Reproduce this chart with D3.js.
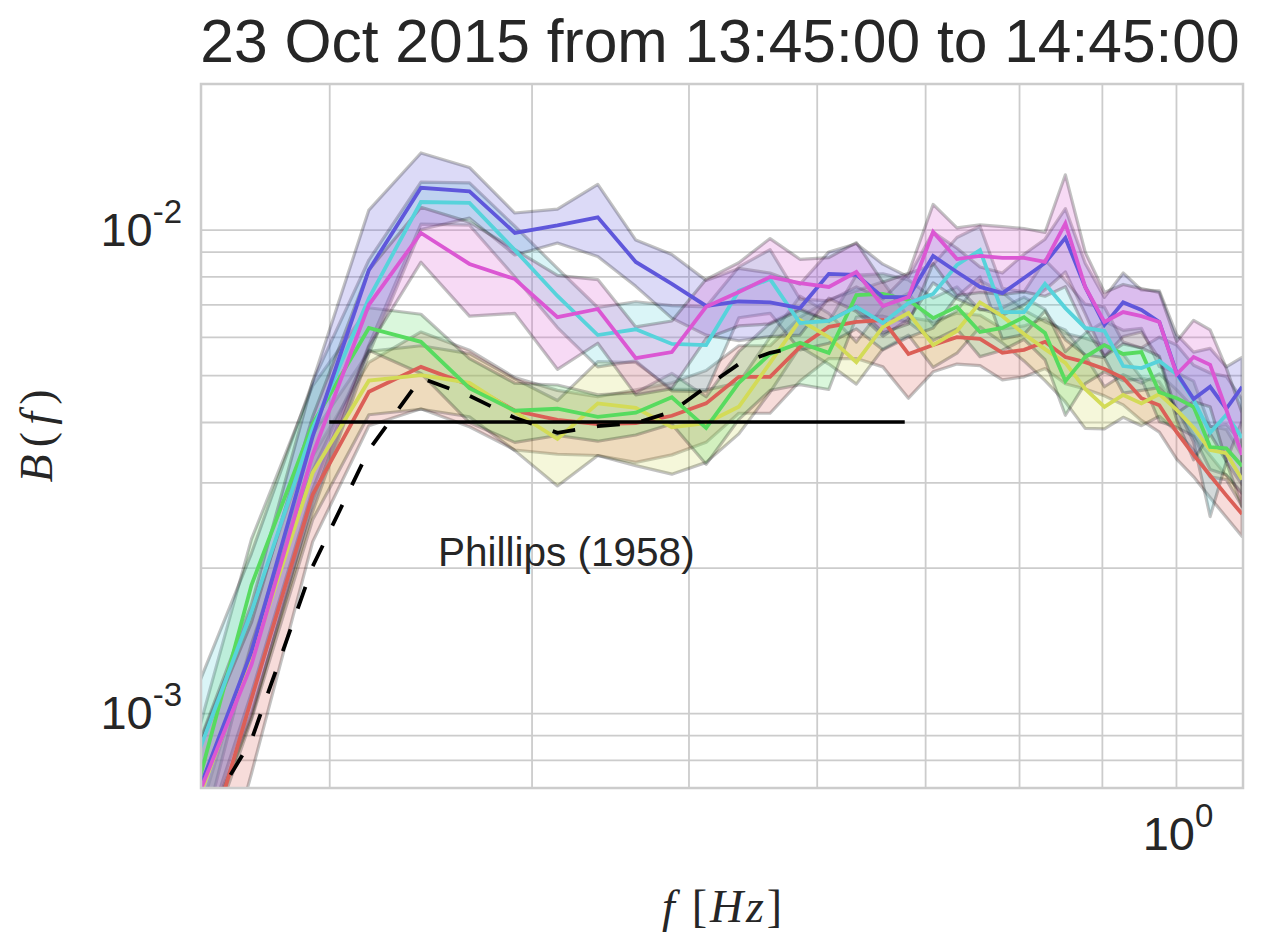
<!DOCTYPE html>
<html>
<head>
<meta charset="utf-8">
<script src="https://cdn.jsdelivr.net/npm/d3@7"></script>
<style>
  body { margin: 0; background: #fff; }
  text { font-family: "Liberation Sans", Arial, sans-serif; fill: #262626; }
  .math { font-family: "Liberation Serif", "DejaVu Serif", serif; font-style: italic; }
</style>
</head>
<body>
<svg id="chart" width="1264" height="952"></svg>
<script>
// values are in units of 1e-3
const UNIT = 1e-3;

const freqs = [0.2441, 0.2686, 0.2930, 0.3174, 0.3418, 0.3662, 0.3906, 0.4150, 0.4395,
  0.4639, 0.4883, 0.5127, 0.5371, 0.5615, 0.5859, 0.6104, 0.6348, 0.6592, 0.6836,
  0.7080, 0.7324, 0.7568, 0.7813, 0.8057, 0.8301, 0.8545, 0.8789, 0.9033, 0.9277,
  0.9521, 0.9766, 1.0010, 1.0254, 1.0498, 1.0742, 1.0986];

const redMean = [0.361, 1.07, 2.83, 4.62, 5.20, 4.77, 4.22, 4.04, 3.96, 3.98, 4.12, 4.37,
  4.96, 4.96, 5.72, 6.29, 6.44, 6.50, 5.53, 5.77, 5.99, 5.94, 5.56, 5.64, 5.86, 5.45,
  5.32, 5.15, 4.93, 4.48, 4.33, 3.81, 3.42, 3.10, 2.82, 2.58];
const redStd = [0.126, 0.32, 0.57, 0.69, 0.94, 0.86, 0.72, 0.61, 0.55, 0.68, 0.70, 0.74,
  0.79, 0.79, 0.86, 0.88, 1.03, 1.30, 1.05, 0.69, 0.72, 0.71, 0.67, 0.68, 0.70, 0.65,
  0.64, 0.62, 0.59, 0.45, 0.52, 0.46, 0.34, 0.31, 0.28, 0.26];

const yellowMean = [0.557, 1.29, 3.14, 4.87, 5.00, 4.82, 4.20, 3.69, 4.37, 4.28, 3.90, 3.98,
  4.30, 5.30, 6.50, 5.99, 5.32, 6.29, 6.72, 5.77, 6.17, 7.07, 6.62, 6.08, 5.66, 5.30,
  4.68, 4.30, 4.55, 4.37, 4.57, 4.24, 3.89, 3.50, 3.45, 3.04];
const yellowStd = [0.167, 0.32, 0.63, 0.73, 0.75, 0.72, 0.71, 0.74, 0.96, 1.03, 0.78, 0.68,
  0.52, 0.69, 0.78, 0.72, 0.53, 0.63, 0.67, 0.58, 0.62, 0.78, 0.79, 0.73, 0.79, 0.90,
  0.80, 0.43, 0.46, 0.44, 0.46, 0.42, 0.39, 0.42, 0.41, 0.36];

const greenMean = [0.557, 1.84, 3.96, 6.26, 5.86, 4.70, 4.22, 4.26, 4.10, 4.18, 4.50, 3.89,
  4.82, 5.53, 5.83, 5.56, 7.32, 7.36, 7.15, 6.56, 6.92, 6.14, 6.26, 6.59, 6.11, 4.86,
  5.45, 5.77, 5.53, 5.58, 4.61, 4.48, 4.30, 3.55, 3.53, 3.24];
const greenStd = [0.16, 0.45, 0.79, 0.63, 0.82, 0.71, 0.59, 0.51, 0.45, 0.42, 0.54, 0.62,
  0.77, 0.88, 1.05, 0.89, 0.73, 0.74, 0.72, 0.66, 0.69, 0.68, 0.63, 0.66, 0.73, 0.73,
  0.65, 0.69, 0.66, 0.67, 0.60, 0.58, 0.56, 0.36, 0.42, 0.39];

const cyanMean = [0.692, 1.62, 3.87, 7.21, 11.4, 11.35, 9.07, 7.29, 6.05, 6.22, 5.80, 5.77,
  7.47, 7.90, 6.41, 6.47, 6.92, 6.41, 7.05, 7.36, 8.45, 9.07, 6.75, 6.75, 7.72, 6.88,
  6.26, 6.17, 5.22, 5.17, 5.35, 5.02, 4.44, 3.80, 4.14, 3.71];
const cyanStd = [0.277, 0.52, 0.97, 1.44, 1.14, 1.14, 1.09, 1.02, 0.85, 0.87, 1.16, 1.15,
  0.90, 1.19, 0.77, 0.65, 0.69, 0.77, 1.06, 1.10, 1.18, 1.09, 0.81, 0.68, 0.93, 0.96,
  0.75, 0.74, 0.63, 0.52, 0.64, 0.75, 0.80, 1.25, 0.83, 0.74];

const blueMean = [0.576, 1.34, 3.73, 8.25, 12.2, 12.0, 9.84, 10.2, 10.6, 8.57, 7.72, 6.95,
  7.10, 7.07, 6.88, 8.10, 8.06, 7.25, 7.25, 8.82, 8.17, 7.61, 7.39, 7.94, 8.53, 9.61,
  7.61, 6.35, 7.07, 6.82, 6.44, 5.05, 4.46, 4.73, 4.26, 4.73];
const blueStd = [0.144, 0.34, 1.12, 2.72, 2.20, 1.44, 0.98, 0.82, 1.80, 0.94, 1.16, 0.90,
  1.21, 1.06, 0.83, 0.89, 1.29, 1.23, 0.73, 1.06, 0.98, 0.76, 0.74, 0.95, 1.02, 1.44,
  0.91, 0.89, 1.06, 0.68, 1.03, 1.01, 1.12, 0.95, 0.94, 0.71];

const magentaMean = [0.573, 1.26, 3.42, 6.99, 9.84, 8.49, 7.90, 6.59, 6.85, 5.42, 5.58, 6.92,
  7.43, 7.98, 7.75, 7.61, 8.17, 6.95, 7.25, 9.89, 8.69, 8.82, 8.74, 8.74, 8.57, 10.3,
  7.61, 6.44, 6.75, 6.62, 6.44, 5.02, 5.45, 5.25, 4.24, 3.42];
const magentaStd = [0.143, 0.28, 0.68, 1.26, 1.28, 1.87, 1.19, 1.45, 1.03, 0.87, 0.89, 0.97,
  1.11, 1.60, 0.93, 1.14, 1.23, 0.83, 0.87, 1.38, 1.39, 1.41, 1.40, 1.31, 1.29, 2.68,
  1.37, 0.97, 0.95, 0.93, 0.97, 0.85, 1.04, 0.95, 0.93, 0.75];

// dashed reference curve, on the first 15 frequencies
const dashedMean = [0.516, 0.880, 2.01, 3.50, 4.93, 4.53, 4.08, 3.80, 3.92, 3.98, 4.20,
  4.73, 5.27, 5.56, 5.72];

const phillipsF = [0.3, 0.68];
const phillipsB = 4.0;

const xGrid = [0.3, 0.4, 0.5, 0.6, 0.7, 0.8, 0.9, 1.0];
const yGrid = [0.8, 0.9, 1, 2, 3, 4, 5, 6, 7, 8, 9, 10];
const xLabels = [{ v: 1.0, exp: '0' }];
const yLabels = [{ v: 1, exp: '-3' }, { v: 10, exp: '-2' }];

const title = '23 Oct 2015 from 13:45:00 to 14:45:00';

const series = [
  { color: '#db5f57', mean: redMean, std: redStd },
  { color: '#d3db57', mean: yellowMean, std: yellowStd },
  { color: '#57db5f', mean: greenMean, std: greenStd },
  { color: '#57d3db', mean: cyanMean, std: cyanStd },
  { color: '#5f57db', mean: blueMean, std: blueStd },
  { color: '#db57d3', mean: magentaMean, std: magentaStd }
];

const plot = { left: 201, right: 1243, top: 84, bottom: 788 };

const x = d3.scaleLog().domain([0.25, 1.1]).range([plot.left, plot.right]);
const y = d3.scaleLog().domain([0.7 * UNIT, 20 * UNIT]).range([plot.bottom, plot.top]);

const svg = d3.select('#chart');

svg.append('defs').append('clipPath').attr('id', 'clip')
  .append('rect')
  .attr('x', plot.left).attr('y', plot.top)
  .attr('width', plot.right - plot.left).attr('height', plot.bottom - plot.top);

// grid
svg.append('g')
  .attr('transform', `translate(0,${plot.bottom})`)
  .call(d3.axisBottom(x).tickValues(xGrid).tickSize(-(plot.bottom - plot.top)).tickFormat(''))
  .call(g => g.select('.domain').remove())
  .call(g => g.selectAll('line').attr('stroke', '#cccccc').attr('stroke-width', 1.8));

svg.append('g')
  .attr('transform', `translate(${plot.left},0)`)
  .call(d3.axisLeft(y).tickValues(yGrid.map(v => v * UNIT)).tickSize(-(plot.right - plot.left)).tickFormat(''))
  .call(g => g.select('.domain').remove())
  .call(g => g.selectAll('line').attr('stroke', '#cccccc').attr('stroke-width', 1.8));

const area = d3.area()
  .x(d => x(d.f))
  .y0(d => y(d.lo))
  .y1(d => y(d.hi));

const line = d3.line()
  .x(d => x(d.f))
  .y(d => y(d.v));

const body = svg.append('g').attr('clip-path', 'url(#clip)');

// bands first
series.forEach(s => {
  const rows = freqs.map((f, i) => ({
    f,
    lo: (s.mean[i] - s.std[i]) * UNIT,
    hi: (s.mean[i] + s.std[i]) * UNIT
  }));
  body.append('path')
    .datum(rows)
    .attr('d', area)
    .attr('fill', s.color)
    .attr('fill-opacity', 0.22)
    .attr('stroke', '#000')
    .attr('stroke-opacity', 0.24)
    .attr('stroke-width', 3.2)
    .attr('stroke-linejoin', 'round');
});

series.forEach(s => {
  body.append('path')
    .datum(freqs.map((f, i) => ({ f, v: s.mean[i] * UNIT })))
    .attr('d', line)
    .attr('fill', 'none')
    .attr('stroke', s.color)
    .attr('stroke-width', 3.8);
});

// Phillips saturation level
body.append('path')
  .datum(phillipsF.map(f => ({ f, v: phillipsB * UNIT })))
  .attr('d', line)
  .attr('fill', 'none')
  .attr('stroke', '#000')
  .attr('stroke-width', 3.6);

body.append('path')
  .datum(dashedMean.map((v, i) => ({ f: freqs[i], v: v * UNIT })))
  .attr('d', line)
  .attr('fill', 'none')
  .attr('stroke', '#000')
  .attr('stroke-width', 3.8)
  .attr('stroke-dasharray', '23,22');

svg.append('text')
  .attr('x', 438)
  .attr('y', 566)
  .attr('font-size', 40.5)
  .text('Phillips (1958)');

// frame
svg.append('rect')
  .attr('x', plot.left).attr('y', plot.top)
  .attr('width', plot.right - plot.left).attr('height', plot.bottom - plot.top)
  .attr('fill', 'none')
  .attr('stroke', '#cccccc')
  .attr('stroke-width', 2.5);

// tick labels as 10^n
function powerLabel(sel, exp) {
  sel.append('tspan').text('10');
  sel.append('tspan').attr('dy', -23).attr('font-size', 33).text(exp);
}

yLabels.forEach(t => {
  svg.append('text')
    .attr('x', 182)
    .attr('y', y(t.v * UNIT) + 16)
    .attr('text-anchor', 'end')
    .attr('font-size', 47)
    .call(powerLabel, t.exp);
});

xLabels.forEach(t => {
  svg.append('text')
    .attr('x', x(t.v) + 2)
    .attr('y', 850)
    .attr('text-anchor', 'middle')
    .attr('font-size', 47)
    .call(powerLabel, t.exp);
});

svg.append('text')
  .attr('x', (plot.left + plot.right) / 2 - 2)
  .attr('y', 62)
  .attr('text-anchor', 'middle')
  .attr('font-size', 60.5)
  .text(title);

// axis labels
const xl = svg.append('text')
  .attr('class', 'math')
  .attr('x', 722)
  .attr('y', 922)
  .attr('text-anchor', 'middle')
  .attr('font-size', 46)
  .attr('textLength', 120)
  .attr('lengthAdjust', 'spacing');
xl.append('tspan').text('f ');
xl.append('tspan').attr('font-style', 'normal').text('[');
xl.append('tspan').text('Hz');
xl.append('tspan').attr('font-style', 'normal').text(']');

const yl = svg.append('text')
  .attr('class', 'math')
  .attr('transform', 'translate(52,436) rotate(-90)')
  .attr('text-anchor', 'middle')
  .attr('font-size', 46)
  .attr('textLength', 93)
  .attr('lengthAdjust', 'spacing');
yl.append('tspan').text('B');
yl.append('tspan').attr('font-style', 'normal').text('(');
yl.append('tspan').text('f');
yl.append('tspan').attr('font-style', 'normal').text(')');
</script>
</body>
</html>
